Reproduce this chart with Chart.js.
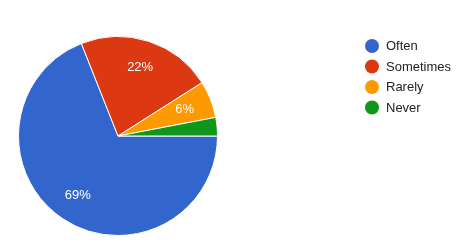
<!DOCTYPE html>
<html>
<head>
<meta charset="utf-8">
<script src="https://cdn.jsdelivr.net/npm/chart.js@4"></script>
<style>
  html, body { margin: 0; padding: 0; background: #fff; }
  #wrap { width: 468px; height: 243px; position: relative; }
</style>
</head>
<body>
<div id="wrap"><canvas id="chart-answers"></canvas></div>
<script>
const labels = ['Often', 'Sometimes', 'Rarely', 'Never'];
const values = [69, 22, 6, 3];
const colors = ['#3366cc', '#dc3912', '#ff9900', '#109618'];

/** 조각 안쪽 퍼센트 라벨 */
const sliceLabels = {
  id: 'sliceLabels',
  afterDatasetsDraw(chart) {
    const { ctx } = chart;
    const meta = chart.getDatasetMeta(0);
    const total = values.reduce((a, b) => a + b, 0);
    ctx.save();
    ctx.fillStyle = '#fff';
    ctx.font = '13px "Liberation Sans", Arial, sans-serif';
    ctx.textAlign = 'center';
    ctx.textBaseline = 'middle';
    meta.data.forEach((arc, i) => {
      const pct = Math.round(values[i] / total * 100);
      if (pct < 5) return;
      const { x, y, startAngle, endAngle, outerRadius } = arc.getProps(['x', 'y', 'startAngle', 'endAngle', 'outerRadius'], true);
      const mid = (startAngle + endAngle) / 2;
      const r = outerRadius * 0.72;
      ctx.fillText(pct + '%', x + Math.cos(mid) * r, y + Math.sin(mid) * r);
    });
    ctx.restore();
  },
};

/** 오른쪽 범례 */
const sideLegend = {
  id: 'sideLegend',
  afterDraw(chart) {
    const { ctx } = chart;
    ctx.save();
    ctx.font = '13px "Liberation Sans", Arial, sans-serif';
    ctx.textBaseline = 'middle';
    labels.forEach((lab, i) => {
      const y = 46 + i * 20.5;
      ctx.beginPath();
      ctx.arc(372, y, 7, 0, Math.PI * 2);
      ctx.fillStyle = colors[i];
      ctx.fill();
      ctx.fillStyle = '#222';
      ctx.fillText(lab, 386, y + 0.5);
    });
    ctx.restore();
  },
};

new Chart(document.getElementById('chart-answers'), {
  type: 'pie',
  data: {
    labels: labels,
    datasets: [{
      data: values,
      backgroundColor: colors,
      borderColor: '#fff',
      borderWidth: 1,
    }],
  },
  options: {
    responsive: true,
    maintainAspectRatio: false,
    animation: false,
    rotation: 90,
    layout: { padding: { left: 18, top: 36, right: 250, bottom: 7 } },
    plugins: {
      legend: { display: false },
      tooltip: { enabled: false },
    },
  },
  plugins: [sliceLabels, sideLegend],
});
</script>
</body>
</html>
